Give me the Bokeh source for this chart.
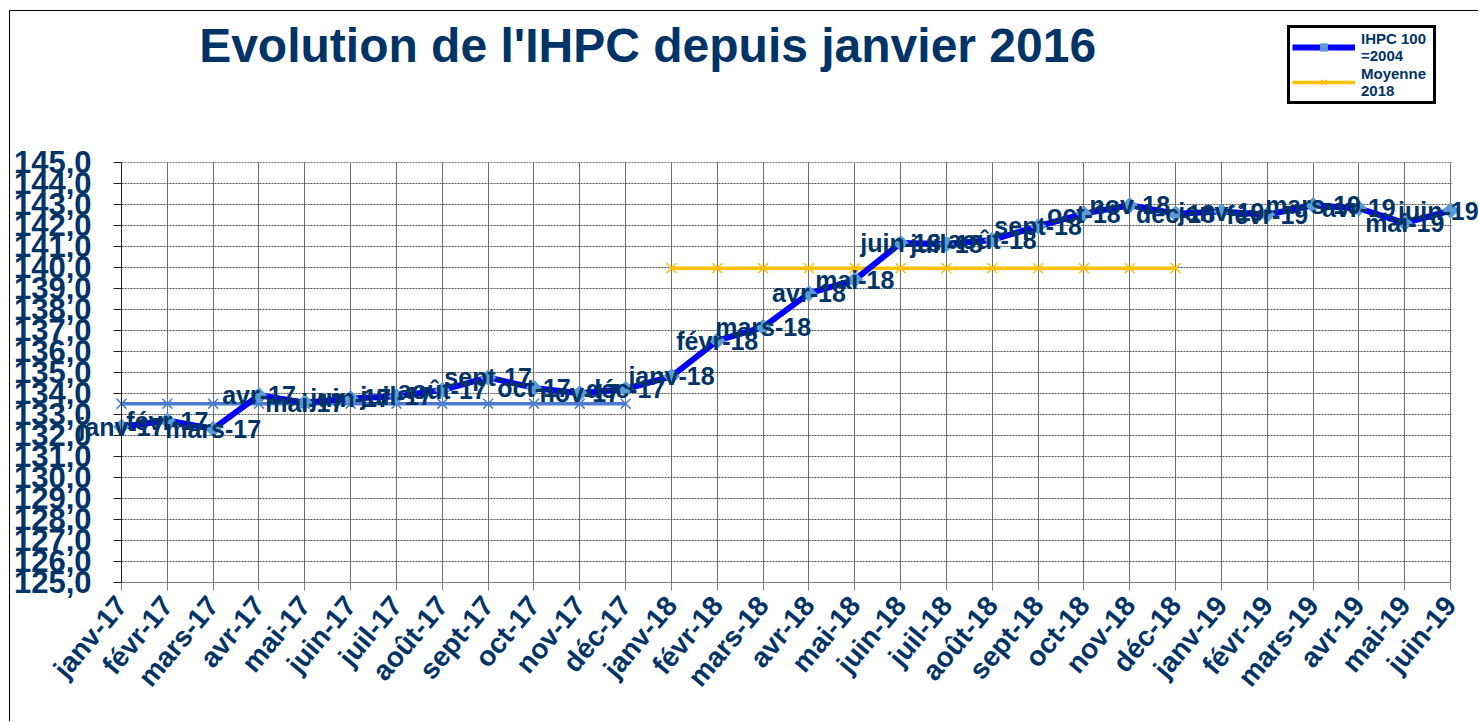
import math
from bokeh.plotting import figure
from bokeh.models import (ColumnDataSource, Range1d, FixedTicker, LabelSet, Label,
                          Legend, LegendItem, BoxAnnotation)
from bokeh.core.properties import value
from bokeh.embed import file_html
from bokeh.resources import INLINE

# ---------------- data ----------------
months = ["janv-17", "févr-17", "mars-17", "avr-17", "mai-17", "juin-17", "juil-17",
          "août-17", "sept-17", "oct-17", "nov-17", "déc-17",
          "janv-18", "févr-18", "mars-18", "avr-18", "mai-18", "juin-18", "juil-18",
          "août-18", "sept-18", "oct-18", "nov-18", "déc-18",
          "janv-19", "févr-19", "mars-19", "avr-19", "mai-19", "juin-19"]
ihpc = [132.4, 132.7, 132.3, 133.9, 133.55, 133.75, 133.85, 134.15, 134.75, 134.25,
        134.0, 134.2,
        134.8, 136.5, 137.15, 138.75, 139.4, 141.15, 141.1, 141.3, 141.95, 142.55,
        142.95, 142.55,
        142.65, 142.5, 142.95, 142.8, 142.1, 142.7]
moy2017_months = months[0:12]
moy2017 = [133.5] * 12
moy2018_months = months[12:24]
moy2018 = [139.95] * 12
y_ticks = list(range(125, 146))
title_text = "Evolution de l'IHPC depuis janvier 2016"
legend_ihpc = "IHPC 100\n=2004"
legend_moy = "Moyenne\n2018"

NAVY = "#003366"
FONT = "Liberation Sans"

# ---------------- layout (pixels) ----------------
W, H = 1469, 711          # figure content size (page origin at 10, 11)
AXIS_X0 = 111             # pixel of the first month from the frame's left edge
AXIS_Y0 = 140.3           # pixel of the axis baseline from the frame's bottom edge
PX_X = 45.83              # pixels per month
PX_Y = 21.0               # pixels per index point

idx = list(range(len(months)))
idx2017 = [months.index(m) for m in moy2017_months]
idx2018 = [months.index(m) for m in moy2018_months]
x_first, x_last = idx[0], idx[-1]
y_min, y_max = y_ticks[0], y_ticks[-1]

src = ColumnDataSource(dict(x=idx, y=ihpc, lab=months))
src_lab = ColumnDataSource(dict(x=idx[:-1], y=ihpc[:-1], lab=months[:-1]))
src_lab_last = ColumnDataSource(dict(x=idx[-1:], y=ihpc[-1:], lab=months[-1:]))
src17 = ColumnDataSource(dict(x=idx2017, y=moy2017))
src18 = ColumnDataSource(dict(x=idx2018, y=moy2018))

x_start = x_first - AXIS_X0 / PX_X
x_end = x_start + W / PX_X
y_start = y_min - AXIS_Y0 / PX_Y
y_end = y_start + H / PX_Y

p = figure(width=W, height=H, output_backend="svg", toolbar_location=None,
           x_range=Range1d(x_start, x_end), y_range=Range1d(y_start, y_end),
           min_border_left=0, min_border_right=0, min_border_top=0,
           min_border_bottom=0, background_fill_color="white",
           border_fill_color="white", outline_line_color=None)
p.styles = {"margin-left": "9px", "margin-top": "10px",
            "border-left": "1px solid #000000", "border-top": "1px solid #000000"}
p.title = None

# axes
p.xaxis.ticker = FixedTicker(ticks=idx)
p.xaxis.fixed_location = y_min
p.xaxis.bounds = (x_first, x_last)
p.xaxis.major_label_overrides = {i: m for i, m in enumerate(months)}
p.xaxis.major_label_orientation = 0.87
p.xaxis.major_label_text_font = FONT
p.xaxis.major_label_text_font_style = "bold"
p.xaxis.major_label_text_font_size = "28px"
p.xaxis.major_label_text_color = NAVY
p.xaxis.major_label_standoff = 10
p.xaxis.axis_line_color = "#808080"
p.xaxis.major_tick_line_color = "#808080"
p.xaxis.major_tick_out = 8
p.xaxis.major_tick_in = 0
p.xaxis.minor_tick_line_color = None

p.yaxis.ticker = FixedTicker(ticks=y_ticks)
p.yaxis.fixed_location = x_first
p.yaxis.bounds = (y_min, y_max)
p.yaxis.major_label_overrides = {v: f"{v},0" for v in y_ticks}
p.yaxis.major_label_text_font = FONT
p.yaxis.major_label_text_font_style = "bold"
p.yaxis.major_label_text_font_size = "31px"
p.yaxis.major_label_text_color = NAVY
p.yaxis.major_label_standoff = 22
p.yaxis.axis_line_color = "#202020"
p.yaxis.major_tick_line_color = "#202020"
p.yaxis.major_tick_out = 8
p.yaxis.major_tick_in = 0
p.yaxis.minor_tick_line_color = None

# grids
p.xgrid.ticker = FixedTicker(ticks=idx)
p.xgrid.grid_line_color = "#707070"
p.xgrid.grid_line_width = 1
p.ygrid.ticker = FixedTicker(ticks=y_ticks)
p.ygrid.grid_line_color = "#505050"
p.ygrid.grid_line_dash = "2 1"
p.ygrid.grid_line_width = 1

# white masks keep the grid inside the plotting area
for kw in (dict(bottom=y_max), dict(top=y_min), dict(right=x_first),
           dict(left=x_last + 0.02)):
    p.add_layout(BoxAnnotation(fill_color="white", fill_alpha=1, line_color=None,
                               level="underlay", **kw))

# series
r17l = p.line("x", "y", source=src17, line_color="#4A7BD0", line_width=3.5)
r17m = p.scatter("x", "y", source=src17, marker="x", size=14, line_color="#4A7BD0",
                 line_width=1.5)
r18l = p.line("x", "y", source=src18, line_color="#FFC000", line_width=3.5)
r18m = p.scatter("x", "y", source=src18, marker="x", size=14, line_color="#FFC000",
                 line_width=1.5)
ril = p.line("x", "y", source=src, line_color="#0000FF", line_width=6)
rim = p.scatter("x", "y", source=src, marker="square", angle=math.pi / 4, size=11,
                fill_color="#5B9BD5", line_color="#5B9BD5")

lab_style = dict(text_baseline="middle", text_font=value(FONT),
                 text_font_style="bold", text_font_size="25px", text_color=NAVY)
p.add_layout(LabelSet(x="x", y="y", text="lab", source=src_lab,
                      text_align="center", **lab_style))
# the last label is kept inside the chart area, as the spreadsheet does
p.add_layout(LabelSet(x="x", y="y", text="lab", source=src_lab_last,
                      text_align="right", x_offset=28, **lab_style))

# title
p.add_layout(Label(x=11.48, y=150.56, text=title_text, text_align="center",
                   text_baseline="middle", text_font=FONT, text_font_style="bold",
                   text_font_size="48px", text_color=NAVY))

legend = Legend(items=[LegendItem(label=legend_ihpc, renderers=[ril, rim]),
                       LegendItem(label=legend_moy, renderers=[r18l, r18m])],
                location=(1277, 618), orientation="vertical",
                border_line_color="#000000", border_line_width=3,
                border_line_alpha=1,
                background_fill_color="white", background_fill_alpha=1,
                label_text_font=FONT, label_text_font_style="bold",
                label_text_font_size="15px", label_text_color=NAVY,
                label_text_line_height=1.1, label_width=70,
                glyph_width=63, glyph_height=18, label_standoff=6,
                padding=2, spacing=1, margin=0)
p.add_layout(legend, "center")

open("out.html", "w").write(file_html(p, INLINE))
